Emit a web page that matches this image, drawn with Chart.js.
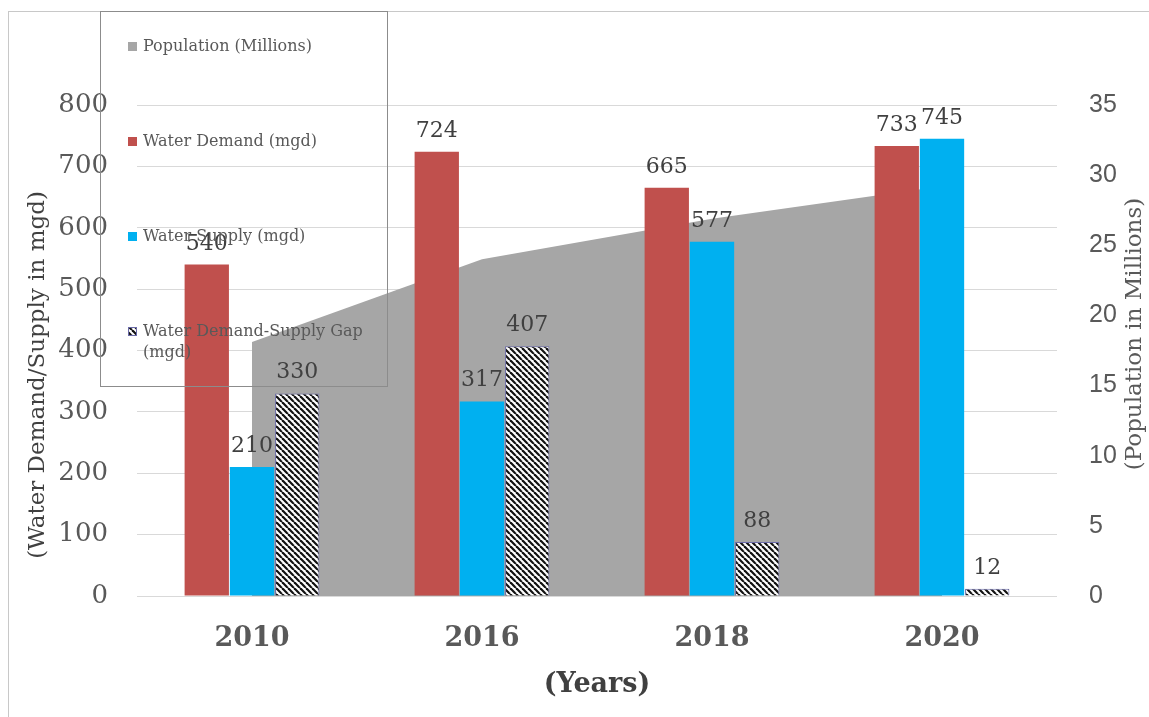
<!DOCTYPE html>
<html>
<head>
<meta charset="utf-8">
<script src="https://cdn.jsdelivr.net/npm/chart.js@4.4.1/dist/chart.umd.min.js"></script>
<style>
  body { margin: 0; background: #fff; }
  #wrap { width: 1149px; height: 717px; }
</style>
</head>
<body>
<div id="wrap"><canvas id="waterChart" width="1149" height="717"></canvas></div>
<script>
// values
const years = ["2010", "2016", "2018", "2020"];
const population = [18.1, 24, 26.9, 29.2];
const demand = [540, 724, 665, 733];
const supply = [210, 317, 577, 745];
const gap = [330, 407, 88, 12];
const leftMax = 800, leftStep = 100;
const rightMax = 35, rightStep = 5;
const leftTitle = "(Water Demand/Supply in mgd)";
const rightTitle = "(Population in Millions)";
const xTitle = "(Years)";

const serif = "'DejaVu Serif', serif";

function makeHatch() {
  const c = document.createElement("canvas");
  c.width = 6; c.height = 6;
  const g = c.getContext("2d");
  g.fillStyle = "#fff";
  g.fillRect(0, 0, 6, 6);
  g.strokeStyle = "#111";
  g.lineWidth = 2.2;
  [-6, 0, 6].forEach(k => {
    g.beginPath();
    g.moveTo(k, 0);
    g.lineTo(k + 6, 6);
    g.stroke();
  });
  return g.createPattern(c, "repeat");
}
const hatch = makeHatch();

// outer frame + white background
const frame = {
  id: "frame",
  beforeDraw(chart) {
    const ctx = chart.ctx;
    ctx.save();
    ctx.fillStyle = "#fff";
    ctx.fillRect(0, 0, chart.width, chart.height);
    ctx.strokeStyle = "#c8c8c8";
    ctx.lineWidth = 1;
    ctx.strokeRect(8.5, 11.5, 1300, 900);
    ctx.restore();
  }
};

// numbers above the bars
const valueLabels = {
  id: "valueLabels",
  afterDatasetsDraw(chart) {
    const ctx = chart.ctx;
    ctx.save();
    ctx.font = "22px " + serif;
    ctx.fillStyle = "#404040";
    ctx.textAlign = "center";
    ctx.textBaseline = "alphabetic";
    chart.data.datasets.forEach((ds, i) => {
      if (ds.type !== "bar") return;
      chart.getDatasetMeta(i).data.forEach((bar, j) => {
        ctx.fillText(ds.data[j], bar.x, bar.y - 15);
      });
    });
    ctx.restore();
  }
};

// y axis titles, both reading bottom to top
const sideTitles = {
  id: "sideTitles",
  afterDraw(chart) {
    const ctx = chart.ctx;
    ctx.save();
    ctx.textAlign = "center";
    ctx.textBaseline = "middle";
    ctx.font = "23px " + serif;
    ctx.fillStyle = "#404040";
    ctx.translate(38, 375);
    ctx.rotate(-Math.PI / 2);
    ctx.fillText(leftTitle, 0, 0);
    ctx.restore();

    ctx.save();
    ctx.textAlign = "center";
    ctx.textBaseline = "middle";
    ctx.font = "23px " + serif;
    ctx.fillStyle = "#595959";
    ctx.translate(1135, 334);
    ctx.rotate(-Math.PI / 2);
    ctx.fillText(rightTitle, 0, 0);
    ctx.restore();
  }
};

// boxed legend sitting over the plot
const boxLegend = {
  id: "boxLegend",
  afterDraw(chart) {
    const ctx = chart.ctx;
    ctx.save();
    ctx.strokeStyle = "#8c8c8c";
    ctx.lineWidth = 1;
    ctx.strokeRect(100.5, 11.5, 287, 375);
    ctx.font = "16px " + serif;
    ctx.textBaseline = "middle";
    chart.data.datasets.forEach((ds, i) => {
      const y = 47 + i * 95;
      ctx.fillStyle = ds.backgroundColor;
      ctx.fillRect(128, y - 5, 9, 9);
      if (ds.backgroundColor === hatch) {
        ctx.strokeStyle = ds.borderColor;
        ctx.strokeRect(128.5, y - 4.5, 8, 8);
      }
      ctx.fillStyle = "#595959";
      // wrap to the box width
      const words = ds.label.split(" ");
      let line = "", lines = [];
      words.forEach(w => {
        const test = line ? line + " " + w : w;
        if (ctx.measureText(test).width > 238 && line) {
          lines.push(line);
          line = w;
        } else {
          line = test;
        }
      });
      lines.push(line);
      lines.forEach((l, k) => ctx.fillText(l, 143, y + k * 21));
    });
    ctx.restore();
  }
};

new Chart(document.getElementById("waterChart"), {
  type: "bar",
  data: {
    labels: years,
    datasets: [
      {
        type: "line",
        label: "Population (Millions)",
        data: population,
        yAxisID: "y1",
        backgroundColor: "#a6a6a6",
        borderWidth: 0,
        pointRadius: 0,
        fill: "origin",
        tension: 0,
        order: 2
      },
      {
        type: "bar",
        label: "Water Demand (mgd)",
        data: demand,
        yAxisID: "y",
        backgroundColor: "#c0504d",
        order: 1
      },
      {
        type: "bar",
        label: "Water Supply (mgd)",
        data: supply,
        yAxisID: "y",
        backgroundColor: "#00b0f0",
        order: 1
      },
      {
        type: "bar",
        label: "Water Demand-Supply Gap (mgd)",
        data: gap,
        yAxisID: "y",
        backgroundColor: hatch,
        borderColor: "#6b6ba8",
        borderWidth: 1,
        order: 1
      }
    ]
  },
  options: {
    responsive: false,
    animation: false,
    devicePixelRatio: 1,
    layout: { padding: { top: 105, left: 0, right: 0, bottom: 0 } },
    datasets: {
      bar: { categoryPercentage: 0.59, barPercentage: 0.98 }
    },
    plugins: {
      legend: { display: false },
      tooltip: { enabled: false }
    },
    scales: {
      x: {
        grid: { display: false },
        border: { display: false },
        ticks: {
          color: "#595959",
          font: { family: serif, size: 27, weight: "bold" },
          padding: 19
        },
        title: {
          display: true,
          text: xTitle,
          color: "#404040",
          font: { family: serif, size: 27, weight: "bold" },
          padding: { top: 0, bottom: 16 }
        },
        afterFit(s) { s.height = 121; }
      },
      y: {
        position: "left",
        min: 0,
        max: leftMax,
        ticks: {
          stepSize: leftStep,
          color: "#595959",
          font: { family: serif, size: 26 },
          padding: 29
        },
        grid: { color: "#d9d9d9", drawTicks: false },
        border: { display: false },
        afterFit(s) { s.width = 137; }
      },
      y1: {
        position: "right",
        min: 0,
        max: rightMax,
        ticks: {
          stepSize: rightStep,
          color: "#595959",
          font: { family: "'Liberation Sans', sans-serif", size: 25 },
          padding: 24
        },
        grid: { display: false },
        border: { display: false },
        afterFit(s) { s.width = 92; }
      }
    }
  },
  plugins: [frame, valueLabels, sideTitles, boxLegend]
});
</script>
</body>
</html>
